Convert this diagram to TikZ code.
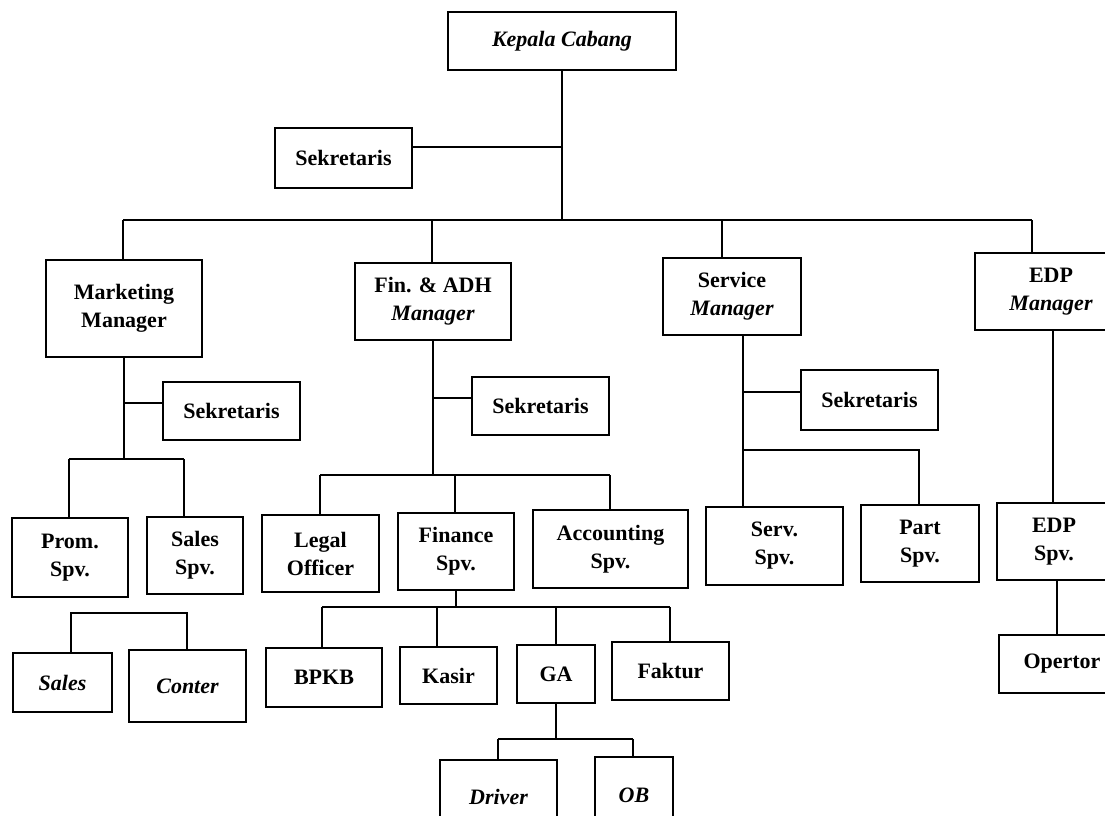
\documentclass[tikz,border=0pt]{standalone}
\usepackage{fontspec}
\setmainfont{Liberation Serif}
\tikzset{
  box/.style={draw, line width=1.3pt, inner sep=0pt, outer sep=0pt, align=center,
    font=\fontsize{16.5pt}{21pt}\selectfont\bfseries},
  link/.style={draw, line width=1.1pt}
}
\newcommand\obox[6]{%
  \pgfmathsetmacro\bxcx{(#2+#4)/2}%
  \pgfmathsetmacro\bxcy{(#3+#5)/2}%
  \pgfmathsetmacro\bxw{(#4-#2)*0.75}%
  \pgfmathsetmacro\bxh{(#5-#3)*0.75}%
  \node[box, minimum width=\bxw pt, minimum height=\bxh pt] (#1) at (\bxcx,\bxcy) {#6};}
\begin{document}
\begin{tikzpicture}[x=0.75pt,y=-0.75pt]
\clip (0,0) rectangle (1105,815);
\fill[white] (0,0) rectangle (1105,815);
% top
\obox{kc}{448}{12}{676}{70}{\itshape Kepala Cabang}
\obox{sek0}{275}{128}{412}{188}{Sekretaris}
% managers
\obox{mm}{46}{260}{202}{357}{Marketing\\Manager}
\obox{fm}{355}{263}{511}{340}{Fin. \& ADH\\\itshape Manager}
\obox{sm}{663}{258}{801}{335}{Service\\\itshape Manager}
\obox{em}{975}{253}{1127}{330}{EDP\\\itshape Manager}
% secretaries
\obox{sek1}{163}{382}{300}{440}{Sekretaris}
\obox{sek2}{472}{377}{609}{435}{Sekretaris}
\obox{sek3}{801}{370}{938}{430}{Sekretaris}
% supervisors
\obox{prom}{12}{518}{128}{597}{Prom.\\Spv.}
\obox{sspv}{147}{517}{243}{594}{Sales\\Spv.}
\obox{legal}{262}{515}{379}{592}{Legal\\Officer}
\obox{fspv}{398}{513}{514}{590}{Finance\\Spv.}
\obox{acc}{533}{510}{688}{588}{Accounting\\Spv.}
\obox{serv}{706}{507}{843}{585}{Serv.\\Spv.}
\obox{part}{861}{505}{979}{582}{Part\\Spv.}
\obox{espv}{997}{503}{1111}{580}{EDP\\Spv.}
% staff
\obox{sales}{13}{653}{112}{712}{\itshape Sales}
\obox{conter}{129}{650}{246}{722}{\itshape Conter}
\obox{bpkb}{266}{648}{382}{707}{BPKB}
\obox{kasir}{400}{647}{497}{704}{Kasir}
\obox{ga}{517}{645}{595}{703}{GA}
\obox{faktur}{612}{642}{729}{700}{Faktur}
\obox{driver}{440}{760}{557}{834}{\itshape Driver}
\obox{ob}{595}{757}{673}{834}{\itshape OB}
\obox{opr}{999}{635}{1125}{693}{Opertor}
% main bus
\coordinate (busL) at (123,220);
\coordinate (busR) at (1032,220);
\coordinate (jk) at (563,147);
\coordinate (bf) at (432,220);
\coordinate (bs) at (722,220);
\path[link] (kc.south) -- (kc.south |- busL);
\path[link] (jk) -- (jk -| sek0.east);
\path[link] (busL) -- (busR);
\path[link] (busL) -- (busL |- mm.north);
\path[link] (bf) -- (bf |- fm.north);
\path[link] (bs) -- (bs |- sm.north);
\path[link] (busR) -- (busR |- em.north);
% marketing
\coordinate (m0) at (124,459);
\coordinate (m1) at (69,459);
\coordinate (m2) at (184,459);
\coordinate (ms) at (124,403);
\path[link] (mm.south) -- (mm.south |- m0);
\path[link] (mm.south |- ms) -- (ms -| sek1.west);
\path[link] (m1) -- (m2);
\path[link] (m1) -- (m1 |- prom.north);
\path[link] (m2) -- (m2 |- sspv.north);
\coordinate (s1) at (71,613);
\coordinate (s2) at (187,613);
\path[link] (s1 |- sales.north) -- (s1) -- (s2) -- (s2 |- conter.north);
% finance
\coordinate (f0) at (433,475);
\coordinate (f1) at (320,475);
\coordinate (f2) at (455,475);
\coordinate (f3) at (610,475);
\coordinate (fs) at (433,398);
\path[link] (fm.south) -- (fm.south |- f0);
\path[link] (fm.south |- fs) -- (fs -| sek2.west);
\path[link] (f1) -- (f3);
\path[link] (f1) -- (f1 |- legal.north);
\path[link] (f2) -- (f2 |- fspv.north);
\path[link] (f3) -- (f3 |- acc.north);
\coordinate (g0) at (456,607);
\coordinate (g1) at (322,607);
\coordinate (g2) at (437,607);
\coordinate (g3) at (556,607);
\coordinate (g4) at (670,607);
\path[link] (fspv.south) -- (fspv.south |- g0);
\path[link] (g1) -- (g4);
\path[link] (g1) -- (g1 |- bpkb.north);
\path[link] (g2) -- (g2 |- kasir.north);
\path[link] (g3) -- (g3 |- ga.north);
\path[link] (g4) -- (g4 |- faktur.north);
\coordinate (h0) at (556,739);
\coordinate (h1) at (498,739);
\coordinate (h2) at (633,739);
\path[link] (ga.south) -- (ga.south |- h0);
\path[link] (h1) -- (h2);
\path[link] (h1) -- (h1 |- driver.north);
\path[link] (h2) -- (h2 |- ob.north);
% service
\coordinate (v0) at (743,335);
\coordinate (vs) at (743,392);
\coordinate (v1) at (743,450);
\coordinate (v2) at (919,450);
\path[link] (v0) -- (v0 |- serv.north);
\path[link] (vs) -- (vs -| sek3.west);
\path[link] (v1) -- (v2) -- (v2 |- part.north);
% EDP
\coordinate (e0) at (1053,330);
\coordinate (e1) at (1057,580);
\path[link] (e0) -- (e0 |- espv.north);
\path[link] (e1) -- (e1 |- opr.north);
\end{tikzpicture}
\end{document}
